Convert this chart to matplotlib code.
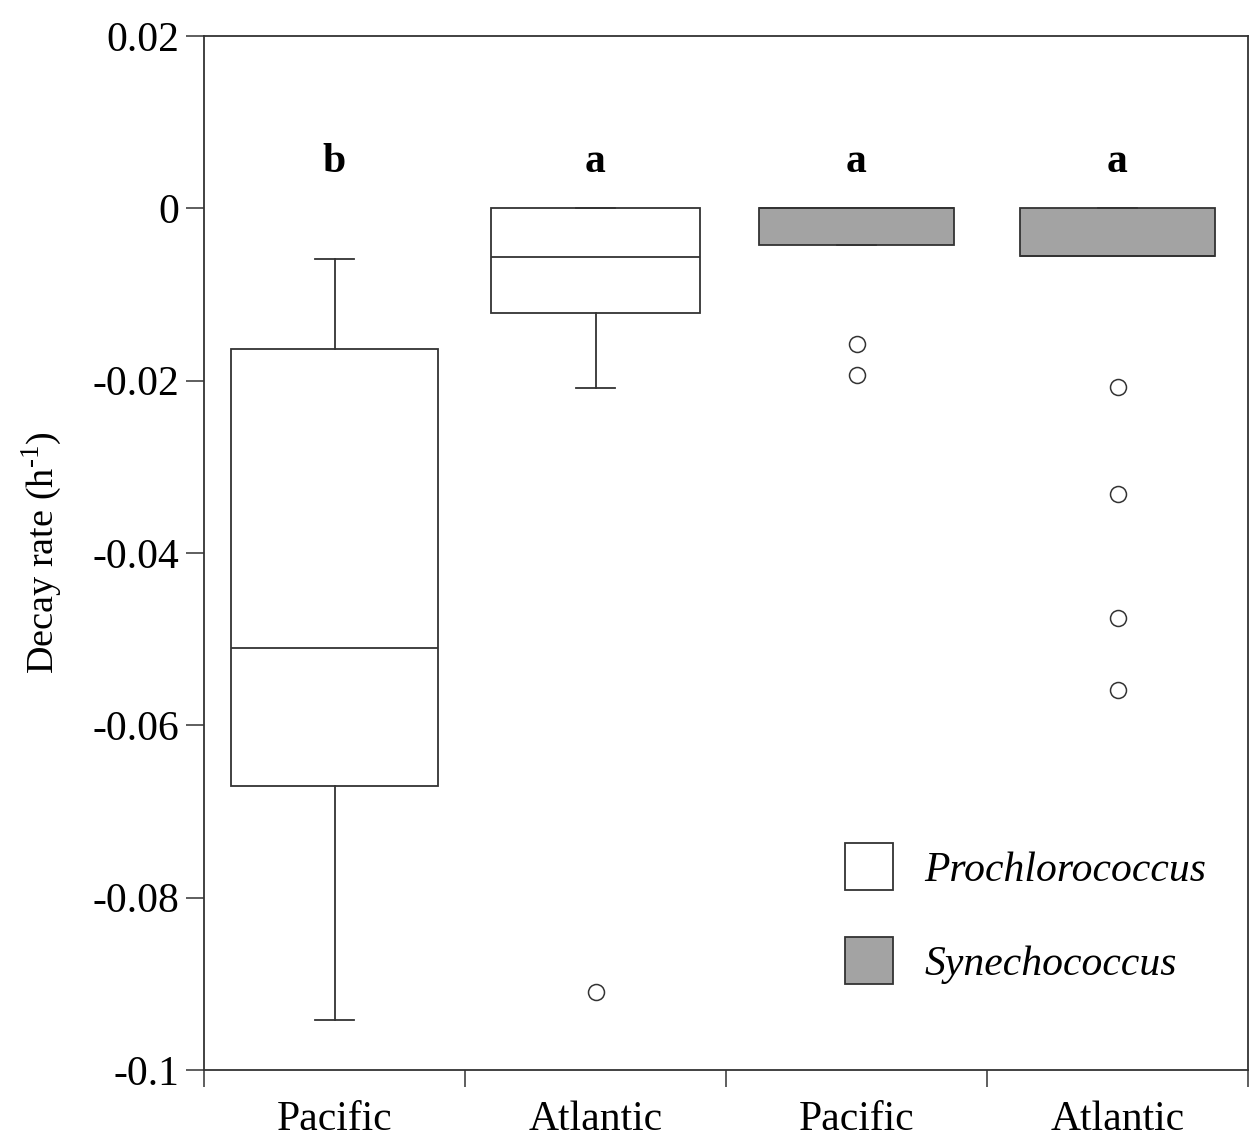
import matplotlib
matplotlib.use("Agg")
import matplotlib.pyplot as plt
from matplotlib.patches import Patch
from matplotlib.ticker import FixedLocator, FixedFormatter

plt.rcParams['font.family'] = ['Liberation Serif', 'DejaVu Serif']
plt.rcParams['mathtext.fontset'] = 'custom'
plt.rcParams['mathtext.rm'] = 'Liberation Serif'

# ---- data ----
groups = ["Pacific", "Atlantic", "Pacific", "Atlantic"]
organism = ["Prochlorococcus", "Prochlorococcus", "Synechococcus", "Synechococcus"]
whislo = [-0.0942, -0.0208, -0.0043, -0.0055]
q1 = [-0.0670, -0.0121, -0.0043, -0.0055]
med = [-0.0510, -0.0057, 0.0, -0.0055]
q3 = [-0.0163, 0.0, 0.0, 0.0]
whishi = [-0.0059, 0.0, 0.0, 0.0]
fliers = [[], [-0.0909], [-0.0158, -0.0193], [-0.0207, -0.0331, -0.0476, -0.0559]]
letters = ["b", "a", "a", "a"]
letter_y = 0.0054
yticks = [0.02, 0.0, -0.02, -0.04, -0.06, -0.08, -0.1]
ytick_labels = ["0.02", "0", "-0.02", "-0.04", "-0.06", "-0.08", "-0.1"]
colors = {"Prochlorococcus": "white", "Synechococcus": "#a3a3a3"}

lc = "#333333"
fs = 30
fig = plt.figure(figsize=(12.6, 11.39), dpi=100)
ax = fig.add_axes([204/1260, 69/1139, 1044/1260, 1034/1139])

stats = []
for i in range(4):
    stats.append(dict(whislo=whislo[i], q1=q1[i], med=med[i], q3=q3[i],
                      whishi=whishi[i], fliers=fliers[i]))
positions = [0.5, 1.5, 2.5, 3.5]
widths = [0.795, 0.8, 0.75, 0.75]
bp = ax.bxp(stats, positions=positions, widths=widths, patch_artist=True,
            capwidths=0.15,
            boxprops=dict(edgecolor=lc, linewidth=1.3),
            medianprops=dict(color=lc, linewidth=1.3),
            whiskerprops=dict(color=lc, linewidth=1.3),
            capprops=dict(color=lc, linewidth=1.3),
            flierprops=dict(marker='o', markerfacecolor='white', markeredgecolor=lc,
                            markersize=11.5, markeredgewidth=1.1, linestyle='none'))
for patch, org in zip(bp['boxes'], organism):
    patch.set_facecolor(colors[org])

for x, t in zip(positions, letters):
    ax.text(x, letter_y, t, ha='center', va='center', fontsize=fs, fontweight='bold')

ax.set_xlim(0, 4)
ax.set_ylim(-0.1, 0.02)
ax.yaxis.set_major_locator(FixedLocator(yticks))
ax.yaxis.set_major_formatter(FixedFormatter(ytick_labels))
ax.xaxis.set_major_locator(FixedLocator([0, 1, 2, 3, 4]))
ax.xaxis.set_major_formatter(FixedFormatter(["", "", "", "", ""]))
ax.xaxis.set_minor_locator(FixedLocator(positions))
ax.xaxis.set_minor_formatter(FixedFormatter(groups))
ax.tick_params(axis='x', which='minor', length=0, pad=22, labelsize=fs)
ax.tick_params(axis='x', which='major', length=12.5, width=1.1, color=lc, direction='out')
ax.tick_params(axis='y', which='major', length=13, width=1.1, color=lc, direction='out',
               pad=5, labelsize=fs)
for s in ax.spines.values():
    s.set_color(lc)
    s.set_linewidth(1.3)

ax.set_ylabel(r"Decay rate (h$^{\text{-1}}$)", fontsize=27.5, labelpad=20)

handles = [Patch(facecolor=colors["Prochlorococcus"], edgecolor=lc, linewidth=1.3),
           Patch(facecolor=colors["Synechococcus"], edgecolor=lc, linewidth=1.3)]
leg = ax.legend(handles, ["Prochlorococcus", "Synechococcus"], loc='upper left',
                bbox_to_anchor=(0.614, 0.2195), frameon=False, borderpad=0,
                borderaxespad=0, handlelength=1.16, handleheight=1.37,
                handletextpad=0.75, labelspacing=1.12,
                prop=dict(family='Liberation Serif', style='italic', size=fs))

fig.savefig("out.png", dpi=100)
